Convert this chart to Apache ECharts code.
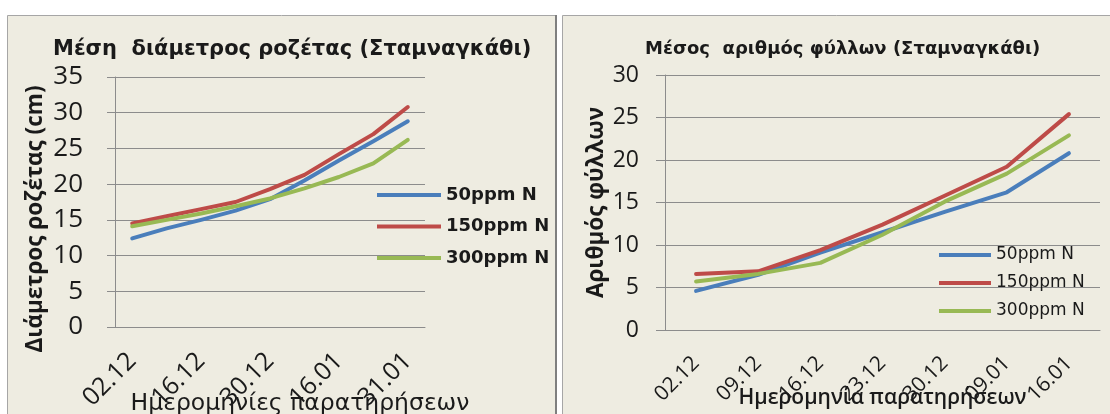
<!DOCTYPE html>
<html>
<head>
<meta charset="utf-8">
<script src="https://cdn.jsdelivr.net/npm/echarts@6/dist/echarts.min.js"></script>
<style>
html,body{margin:0;padding:0;background:#fff;}
#chart{width:1110px;height:414px;}
</style>
</head>
<body>
<div id="chart"></div>
<script>
// ---- Data ----
const leftTitle = 'Μέση  διάμετρος ροζέτας (Σταμναγκάθι)';
const rightTitle = 'Μέσος  αριθμός φύλλων (Σταμναγκάθι)';
const leftYName = 'Διάμετρος ροζέτας (cm)';
const rightYName = 'Αριθμός φύλλων';
const leftXName = 'Ημερομηνίες παρατηρήσεων';
const rightXName = 'Ημερομηνία παρατηρήσεων';
const seriesNames = ['50ppm N', '150ppm N', '300ppm N'];

const leftCategories = ['02.12','09.12','16.12','23.12','30.12','09.01','16.01','23.01','31.01'];
const left50  = [12.4, 13.8, 15.0, 16.3, 17.9, 20.5, 23.3, 26.0, 28.8];
const left150 = [14.5, 15.5, 16.5, 17.5, 19.3, 21.3, 24.2, 27.0, 30.8];
const left300 = [14.1, 15.0, 15.9, 16.9, 18.0, 19.4, 21.0, 22.9, 26.2];

const rightCategories = ['02.12','09.12','16.12','23.12','30.12','09.01','16.01'];
const right50  = [4.6, 6.5, 9.1, 11.5, 13.9, 16.2, 20.8];
const right150 = [6.6, 6.9, 9.4, 12.4, 15.8, 19.2, 25.4];
const right300 = [5.7, 6.6, 7.9, 11.2, 15.1, 18.4, 22.9];

const leftYMax = 35, rightYMax = 30, yStep = 5;

// ---- Styles ----
const colors = ['#4A7EBB', '#BE4B48', '#98B954'];
const bg = '#EEECE1';
const gridColor = '#8C8C8C';
const textColor = '#1a1a1a';
const sans = '"Open Sans", "DejaVu Sans", sans-serif';
const wide = '"DejaVu Sans", sans-serif';

const chart = echarts.init(document.getElementById('chart'), null, {renderer: 'canvas'});

function mkSeries(name, data, idx, colorIdx) {
  return {
    name: name, type: 'line', data: data,
    xAxisIndex: idx, yAxisIndex: idx,
    symbol: 'none', smooth: false,
    lineStyle: {color: colors[colorIdx], width: 4, cap: 'round', join: 'round'},
    itemStyle: {color: colors[colorIdx]},
    z: 3
  };
}

const option = {
  backgroundColor: '#ffffff',
  animation: false,
  title: [
    {text: leftTitle, left: 48, top: 34,
     textStyle: {fontFamily: wide, fontWeight: 'bold', fontSize: 21, color: textColor}},
    {text: rightTitle, left: 640, top: 35,
     textStyle: {fontFamily: wide, fontWeight: 'bold', fontSize: 18, color: textColor}}
  ],
  graphic: [
    {type: 'rect', z: -10, silent: true, shape: {x: 7.5, y: 15.5, width: 548, height: 420},
     style: {fill: bg, stroke: '#A6A6A6', lineWidth: 1}},
    {type: 'rect', z: -9, silent: true, shape: {x: 555, y: 15, width: 2, height: 400},
     style: {fill: '#7F7F7F'}},
    {type: 'rect', z: -10, silent: true, shape: {x: 562.5, y: 15.5, width: 560, height: 420},
     style: {fill: bg, stroke: '#A6A6A6', lineWidth: 1}}
  ],
  legend: [
    {data: seriesNames, orient: 'vertical', left: 372, top: 180,
     icon: 'rect', itemWidth: 64, itemHeight: 4, itemGap: 11.5,
     textStyle: {fontFamily: wide, fontWeight: 'bold', fontSize: 18, color: textColor, lineHeight: 20}},
    {data: seriesNames, orient: 'vertical', left: 934, top: 240,
     icon: 'rect', itemWidth: 52, itemHeight: 4, itemGap: 8,
     textStyle: {fontFamily: wide, fontSize: 17, color: textColor, lineHeight: 20}}
  ],
  grid: [
    {left: 115, top: 77, width: 310, height: 250, containLabel: false, outerBoundsMode: 'none'},
    {left: 665, top: 75, width: 435, height: 255, containLabel: false, outerBoundsMode: 'none'}
  ],
  xAxis: [
    {type: 'category', gridIndex: 0, data: leftCategories, boundaryGap: true,
     axisLine: {show: true, lineStyle: {color: gridColor, width: 1}},
     axisTick: {show: false},
     axisLabel: {interval: 1, rotate: 45, margin: 30, fontFamily: sans, fontSize: 25, color: textColor},
     name: leftXName, nameLocation: 'middle', nameGap: 65, nameMoveOverlap: false,
     nameTextStyle: {fontFamily: wide, fontWeight: 500, fontSize: 23.5, color: textColor, padding: [0, 0, 0, 60]}},
    {type: 'category', gridIndex: 1, data: rightCategories, boundaryGap: true,
     axisLine: {show: true, lineStyle: {color: gridColor, width: 1}},
     axisTick: {show: false},
     axisLabel: {interval: 0, rotate: 45, margin: 30, fontFamily: sans, fontSize: 21, color: textColor},
     name: rightXName, nameLocation: 'middle', nameGap: 58, nameMoveOverlap: false,
     nameTextStyle: {fontFamily: sans, fontWeight: 600, fontSize: 21, color: textColor}}
  ],
  yAxis: [
    {type: 'value', gridIndex: 0, min: 0, max: leftYMax, interval: yStep,
     axisLine: {show: true, lineStyle: {color: gridColor}},
     axisTick: {show: true, length: 8, lineStyle: {color: gridColor}},
     splitLine: {show: true, lineStyle: {color: gridColor, width: 1}},
     axisLabel: {margin: 32, fontFamily: sans, fontSize: 26, color: textColor},
     name: leftYName, nameLocation: 'middle', nameGap: 68, nameRotate: 90, nameMoveOverlap: false,
     nameTextStyle: {fontFamily: sans, fontWeight: 'bold', fontSize: 22.5, color: textColor, padding: [0, 34, 0, 0]}},
    {type: 'value', gridIndex: 1, min: 0, max: rightYMax, interval: yStep,
     axisLine: {show: true, lineStyle: {color: gridColor}},
     axisTick: {show: true, length: 9, lineStyle: {color: gridColor}},
     splitLine: {show: true, lineStyle: {color: gridColor, width: 1}},
     axisLabel: {margin: 26, fontFamily: sans, fontSize: 23, color: textColor},
     name: rightYName, nameLocation: 'middle', nameGap: 57, nameRotate: 90, nameMoveOverlap: false,
     nameTextStyle: {fontFamily: sans, fontWeight: 'bold', fontSize: 22.5, color: textColor}}
  ],
  series: [
    mkSeries(seriesNames[0], left50, 0, 0),
    mkSeries(seriesNames[1], left150, 0, 1),
    mkSeries(seriesNames[2], left300, 0, 2),
    mkSeries(seriesNames[0], right50, 1, 0),
    mkSeries(seriesNames[1], right150, 1, 1),
    mkSeries(seriesNames[2], right300, 1, 2)
  ]
};
chart.setOption(option);
</script>
</body>
</html>
